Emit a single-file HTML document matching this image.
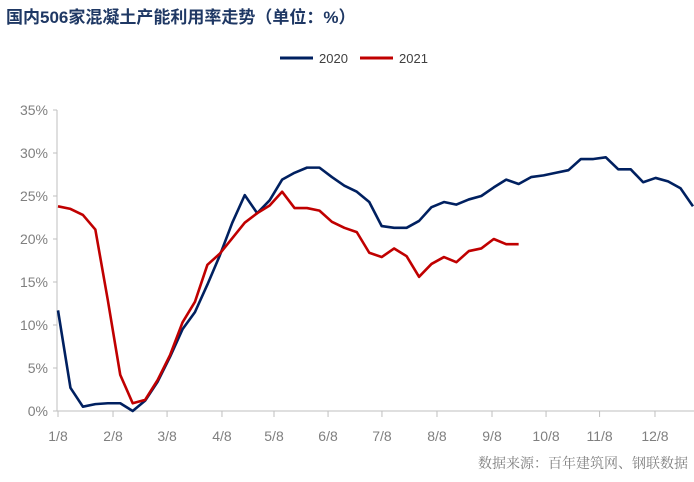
<!DOCTYPE html>
<html><head><meta charset="utf-8"><style>
body{margin:0;background:#fff;width:694px;height:477px;overflow:hidden;font-family:"Liberation Sans","Noto Sans CJK SC",sans-serif}
svg text{font-family:"Liberation Sans","Noto Sans CJK SC",sans-serif}
</style></head><body>
<svg id="c" width="694" height="477">
<text x="6" y="23" font-size="17" font-weight="bold" fill="#1f3864">国内506家混凝土产能利用率走势（单位：%）</text>
<g>
<line x1="280" y1="58" x2="313" y2="58" stroke="#002060" stroke-width="3"/>
<text x="319" y="63" font-size="13" fill="#404040">2020</text>
<line x1="360" y1="58" x2="393" y2="58" stroke="#c00000" stroke-width="3"/>
<text x="399" y="63" font-size="13" fill="#404040">2021</text>
</g>
<text x="688" y="468" font-size="14" fill="#808080" text-anchor="end" style="font-family:'Noto Serif CJK SC',serif">数据来源：百年建筑网、钢联数据</text>
<g id="axes"></g>
<g id="series"></g>
</svg>
<script>
const s2020 = [11.7,2.7,0.5,0.8,0.9,0.9,0.0,1.2,3.4,6.3,9.5,11.5,14.7,18.1,21.9,25.1,23.0,24.5,26.9,27.7,28.3,28.3,27.2,26.2,25.5,24.3,21.5,21.3,21.3,22.1,23.7,24.3,24.0,24.6,25.0,26.0,26.9,26.4,27.2,27.4,27.7,28.0,29.3,29.3,29.5,28.1,28.1,26.6,27.1,26.7,25.9,23.8];
const s2021 = [23.8,23.5,22.8,21.1,12.9,4.2,0.9,1.3,3.6,6.5,10.3,12.7,17.0,18.3,20.1,21.9,23.0,23.9,25.5,23.6,23.6,23.3,22.0,21.3,20.8,18.4,17.9,18.9,18.0,15.6,17.1,17.9,17.3,18.6,18.9,20.0,19.4,19.4];
const monthLabels = ["1/8","2/8","3/8","4/8","5/8","6/8","7/8","8/8","9/8","10/8","11/8","12/8"];
const monthWeek = [0,4.42,8.76,13.17,17.35,21.69,26.02,30.44,34.86,39.2,43.5,47.95];
const yTicks = [0,5,10,15,20,25,30,35];
const NS="http://www.w3.org/2000/svg";
const x0=58, step=12.45, yBase=411, yScale=8.6;
const X=i=>x0+i*step, Y=v=>yBase-v*yScale;
function mk(t,a,p){const e=document.createElementNS(NS,t);for(const k in a)e.setAttribute(k,a[k]);p.appendChild(e);return e;}
const ax=document.getElementById('axes'), se=document.getElementById('series');
let l=mk('line',{x1:57,y1:Y(35),x2:57,y2:yBase,stroke:'#bfbfbf','stroke-width':1},ax);


l=mk('line',{x1:57,y1:yBase,x2:694,y2:yBase,stroke:'#bfbfbf','stroke-width':1},ax);


yTicks.forEach(v=>{
 const t=mk('line',{x1:53,y1:Y(v),x2:57,y2:Y(v),stroke:'#bfbfbf'},ax);
 
 
 const tx=mk('text',{x:48,y:Y(v)+5,'font-size':14,fill:'#7f7f7f','text-anchor':'end'},ax);
 tx.textContent=v+'%';
 
 
});
monthLabels.forEach((m,i)=>{
 const x=X(monthWeek[i]);
 const t=mk('line',{x1:x,y1:yBase,x2:x,y2:yBase+6,stroke:'#bfbfbf'},ax);
 
 
 const tx=mk('text',{x:x,y:yBase+30,'font-size':14,fill:'#7f7f7f','text-anchor':'middle'},ax);
 tx.textContent=m;
 
 
});
function line(d,c,name){
 const p=mk('polyline',{points:d.map((v,i)=>X(i)+','+Y(v)).join(' '),fill:'none',stroke:c,'stroke-width':2.6,'stroke-linejoin':'round'},se);
 
 
}
line(s2020,'#002060','series-2020');
line(s2021,'#c00000','series-2021');
</script>
</body></html>
